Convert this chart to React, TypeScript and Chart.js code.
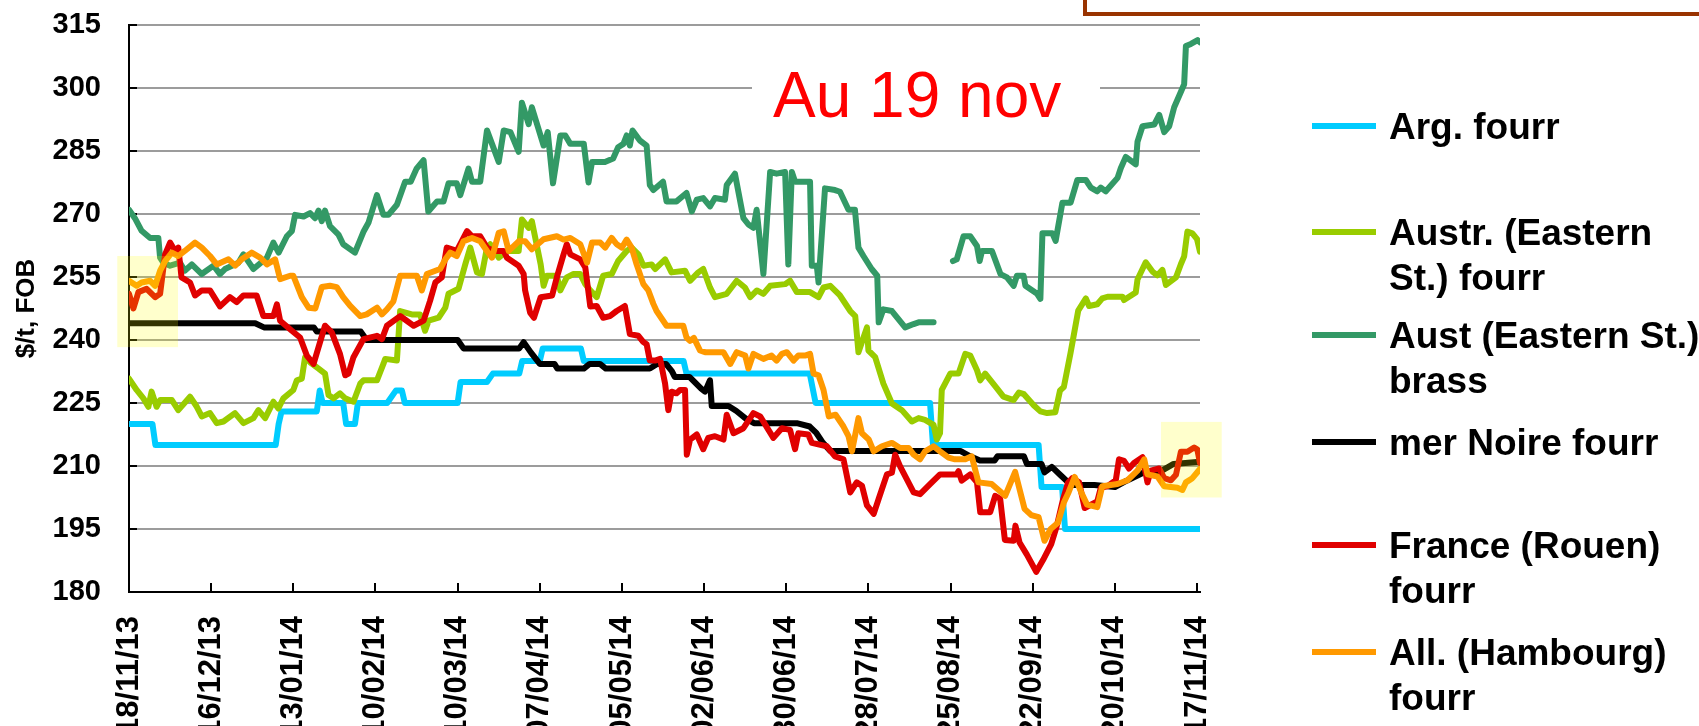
import React, { useEffect, useRef } from 'react';
import { Chart, registerables } from 'chart.js';

Chart.register(...registerables);

const FONT = "'Liberation Sans', Arial, sans-serif";

// x axis: days since 18/11/13
const tickDays = [0, 28, 56, 84, 112, 140, 168, 196, 224, 252, 280, 308, 336, 364];
const tickDates = ['18/11/13', '16/12/13', '13/01/14', '10/02/14', '10/03/14', '07/04/14', '05/05/14', '02/06/14', '30/06/14', '28/07/14', '25/08/14', '22/09/14', '20/10/14', '17/11/14'];
const yTicks = [180, 195, 210, 225, 240, 255, 270, 285, 300, 315];

const seriesNames = ['Arg. fourr', 'Austr. (Eastern St.) fourr', 'Aust (Eastern St.) brass', 'mer Noire fourr', 'France (Rouen) fourr', 'All. (Hambourg) fourr'];
const legendLines = [['Arg. fourr'], ['Austr. (Eastern', 'St.) fourr'], ['Aust (Eastern St.)', 'brass'], ['mer Noire fourr'], ['France (Rouen)', 'fourr'], ['All. (Hambourg)', 'fourr']];
const seriesColors = ['#00CCFF', '#99CC00', '#339966', '#000000', '#E00000', '#FF9900'];

const argDays = [0, 8, 9, 50, 51, 52, 64, 65, 66, 73, 74, 77, 78, 88, 91, 93, 94, 112, 113, 122, 124, 133, 134, 140, 141, 154, 155, 189, 190, 232, 234, 273, 274, 310, 311, 318, 319, 365];
const argValues = [220, 220, 215, 215, 220, 223, 223, 228, 225, 225, 220, 220, 225, 225, 228, 228, 225, 225, 230, 230, 232, 232, 235, 235, 238, 238, 235, 235, 232, 232, 225, 225, 215, 215, 205, 205, 195, 195];

const austrDays = [0, 2.6, 4.9, 6.6, 7.7, 9.4, 10.6, 14.6, 16.8, 20.8, 23.1, 24.8, 27.6, 29.9, 32.2, 36.1, 39, 42.4, 44.1, 46.4, 49.2, 50.9, 52.6, 56, 57.2, 58.9, 60, 61.7, 64.6, 66.8, 68, 69.7, 71.9, 73.7, 76.5, 78.8, 79.9, 84.5, 86.7, 87.3, 91.3, 92.4, 96.4, 99.2, 100.9, 102.1, 105.5, 107.8, 108.9, 112.3, 114.6, 116.3, 118.6, 120.3, 122, 123.1, 126, 128.8, 132.8, 133.9, 136.2, 137.3, 140.3, 141.3, 142.4, 145.8, 147, 149.2, 151.5, 153.8, 155.5, 157.2, 159.4, 161.6, 164.5, 166.7, 169.6, 171.3, 173.6, 175.3, 178.1, 179.3, 182.7, 184.9, 189.5, 191.2, 194, 195.7, 198, 199.7, 203.7, 207.1, 209.9, 211.7, 214, 216.2, 218.5, 223.6, 225.3, 227.6, 232.1, 235, 236.7, 239, 242.3, 245.8, 247.5, 248.6, 251.5, 252, 254.3, 257.1, 260, 263.4, 266.8, 269.1, 271.3, 274.2, 275.3, 276.4, 277, 279.9, 282.7, 285, 286.7, 289, 290.1, 291.8, 295.8, 298, 301.5, 303.3, 305, 308.4, 310.6, 312.9, 315.7, 317.3, 318.6, 320.9, 323.5, 326.1, 327.2, 330, 331.7, 333.5, 338.6, 339.1, 343.1, 343.7, 346.5, 348.8, 350.5, 352.2, 353.4, 356.8, 358.5, 359.6, 360.7, 362.4, 364, 365];
const austrValues = [230.8, 228.1, 226.1, 224.1, 227.7, 224.1, 225.7, 225.7, 223.3, 226.5, 224.1, 221.8, 222.6, 220.2, 220.6, 222.6, 220.2, 221.4, 223.3, 221.4, 225.3, 223.7, 226.1, 228.1, 230.4, 230.8, 235.9, 234.7, 233.2, 232, 226.9, 226.1, 227.3, 226.1, 225.3, 229.6, 230.4, 230.4, 234.3, 235.5, 235.1, 246.9, 246.1, 246.1, 242.2, 244.6, 245.3, 247.7, 251, 252.2, 258, 262, 256.1, 255.7, 262, 262.8, 259.6, 261.2, 261.2, 268.7, 266.7, 268.3, 258, 252.9, 255.3, 255.3, 251.8, 254.9, 255.7, 255.7, 253.3, 251.8, 250.2, 255.3, 255.7, 258.8, 261.2, 262, 260.4, 257.7, 258, 256.9, 259.2, 256.1, 256.5, 254.1, 256.1, 256.9, 252.5, 250.2, 251, 254.1, 252.5, 250.2, 251.8, 251, 252.9, 253.3, 254.1, 251.4, 251.4, 250.2, 252.5, 252.9, 250.6, 246.9, 245.7, 237.1, 243, 237.5, 235.9, 229.6, 224.9, 223.3, 220.6, 221.4, 221, 219.8, 216.3, 217.8, 228.1, 232, 232, 236.7, 236.3, 232.8, 230.4, 232, 228.5, 226.5, 225.7, 227.5, 227.1, 224.4, 223, 222.6, 222.8, 228, 228.8, 237, 247, 249.9, 248.1, 248.5, 249.9, 250.3, 250.3, 249.5, 251.3, 254.4, 258.5, 256.3, 255.4, 256.7, 253.1, 254.9, 258.1, 259.9, 265.8, 265.4, 264, 261];

const brassDays = [0, 2, 4.3, 7.2, 10, 10.6, 11.7, 14, 17.4, 19, 21.4, 24.8, 28.8, 31, 32.7, 37.3, 39, 42.4, 47, 49.2, 51, 53.8, 55.5, 56.6, 59.5, 61.7, 63.4, 64.6, 65.7, 66.8, 68.5, 71.4, 73, 77, 80, 81.6, 84.5, 86.7, 88.4, 91.3, 94.1, 96, 98, 100.4, 102, 105, 107.2, 108.9, 111.7, 112.9, 115.7, 116.9, 119.7, 122, 126, 127.7, 130, 132.8, 133.9, 136.2, 137.3, 141.3, 142.7, 144.5, 147, 148.7, 150.4, 155, 156.6, 157.8, 162.2, 165, 166.7, 168.5, 169.6, 170.7, 171.6, 174.1, 176.4, 177.5, 178.7, 182, 183.2, 186.6, 190, 191.8, 193.5, 195.7, 198, 199.7, 203.1, 203.7, 206.5, 209.4, 211.1, 212.8, 213.9, 216.2, 218.5, 220.7, 223.6, 224.7, 225.9, 227, 232.1, 232.7, 234.4, 235, 237.2, 240.6, 242.3, 245.2, 247.4, 248.6, 250.3, 253.1, 255, 255.5, 257.1, 260, 264.5, 267.4, 269.1, 274.2, 277, 280.8, 282.1, 284.4, 286.7, 289, 289.9, 290.7, 294.1, 297, 299.2, 301.5, 302.6, 304.9, 305.5, 309.5, 310.6, 311.3, 314.7, 315.8, 318.1, 320.9, 323.2, 326.1, 327.8, 330, 331.2, 332.9, 336.9, 338, 339.7, 343.1, 343.7, 345.4, 349.4, 351.1, 352.8, 354.5, 356.2, 358.5, 359.6, 360.2, 361.9, 364.2, 365];
const brassValues = [271, 269, 266, 264.3, 264.3, 259.6, 258.4, 257.7, 258.4, 256.5, 258, 255.7, 257.7, 255.7, 256.9, 258.4, 260.4, 256.9, 259.6, 263.2, 260.8, 264.7, 265.9, 269.8, 269.4, 270.2, 269, 270.8, 268.3, 270.8, 267.1, 265.1, 262.8, 260.8, 265.9, 267.9, 274.5, 269.8, 269.8, 272.2, 277.7, 277.7, 280.8, 282.8, 270.6, 273, 273, 277.3, 277.3, 274.5, 280.8, 277.7, 277.7, 289.9, 282.4, 289.9, 289.5, 284.8, 296.5, 291.4, 295.4, 286.3, 289.5, 277.3, 288.7, 288.7, 286.7, 286.7, 277.5, 282.4, 282.4, 283.2, 285.9, 286.7, 288.7, 286.3, 289.9, 287.5, 286.3, 276.9, 275.7, 277.7, 273, 273, 275, 270.6, 273.4, 273.8, 271.8, 273.8, 273.4, 276.9, 279.6, 269, 267.5, 266.7, 271, 255.7, 280, 279.6, 280, 258, 280, 277.7, 277.7, 257.7, 257.7, 253.7, 276.1, 275.7, 275.3, 271, 271, 262, 260, 256.9, 255.3, 244.2, 247.3, 246.9, 243, 243.8, 244.2, 244.2, null, 258.8, 259.2, 264.7, 264.7, 262.4, 258.8, 261.2, 261.2, 255.7, 254.9, 252.9, 255.3, 255.3, 252.9, 251, 249.8, 265.4, 265.4, 263.6, 272.7, 272.7, 278.1, 278.1, 276.3, 275.4, 276.3, 275.4, 278.6, 280.9, 283.6, 281.8, 287.2, 290.9, 291.3, 293.6, 289.5, 290.9, 295.4, 299.1, 300.9, 310, 310.5, 311.4, 310.9];

const noireDays = [0, 43, 46, 63, 64, 79, 81, 112, 114, 133, 134.5, 137, 140, 145, 146, 155, 157, 160.5, 162.5, 177.5, 180, 183, 185, 186, 191, 195, 196.3, 198, 198.6, 204.3, 207, 210, 213, 227.6, 232, 234.3, 236.5, 239, 283.3, 286.7, 290, 295, 296, 305, 306, 311, 312, 314.5, 317.5, 321, 329, 336, 340, 346, 351, 356, 365];
const noireValues = [244, 244, 243, 243, 242, 242, 240, 240, 238, 238, 239.5, 237, 234.3, 234.3, 233.2, 233.2, 234.3, 234.3, 233.2, 233.2, 234.3, 234.3, 232.6, 231.2, 231.2, 228.4, 227.7, 230.4, 224.3, 224.3, 223.1, 221.4, 220.2, 220.2, 219.4, 217.8, 215.5, 213.6, 213.6, 212.3, 211.3, 211.3, 212.3, 212.3, 210.5, 210.5, 208.5, 209.8, 207.8, 205.5, 205.5, 205, 206.5, 208.5, 208.5, 210.5, 211];

const rouenDays = [0, 1.5, 3.2, 6, 8.9, 10.6, 12.3, 14, 15.7, 16.8, 17.9, 20.8, 22.5, 24.8, 27.6, 31, 34.4, 36.7, 39, 43.5, 45.8, 49.2, 50.4, 51.5, 55.5, 58.3, 60.6, 62.9, 64.6, 66.8, 69.1, 71.9, 73.7, 74.8, 76.5, 79.9, 84.5, 86.2, 87.9, 92.4, 97, 100.4, 102.6, 104.4, 106.6, 108.3, 111.7, 115.2, 116.9, 119.7, 122, 124.3, 127.7, 128.8, 132.8, 134.5, 135, 136.7, 138, 140.3, 144.2, 145.8, 148.1, 149.2, 150.4, 153.8, 155.5, 157.2, 159.4, 161.6, 163.9, 166.2, 169, 170.7, 173.6, 175.3, 176.4, 177.5, 179.3, 181, 182.7, 183.8, 184.9, 186.6, 187.8, 189.5, 190.1, 191.2, 193.5, 195.7, 197.4, 199.7, 202.6, 203.7, 206, 209.4, 212.8, 215.1, 219.6, 222.5, 225.3, 227, 228.1, 231.5, 232.7, 237.8, 240.6, 243.5, 245.8, 248, 249.8, 251.5, 253.8, 255.5, 258.3, 260, 261.1, 262.8, 267.4, 269.6, 273, 276.4, 282.1, 282.7, 283.8, 286.7, 289, 290.1, 293.5, 295.2, 296.9, 298.5, 301.5, 302.1, 303.5, 306, 309.2, 311.5, 314.3, 316.3, 318.3, 320, 321.5, 323.8, 325.7, 330, 331.2, 333.5, 336.3, 337.4, 339.1, 340.8, 342.5, 345.4, 347.1, 348.2, 351.1, 352.8, 355.1, 356.8, 358.5, 360.7, 363, 364.1, 365];
const rouenValues = [251, 247.5, 251.4, 252.2, 250.2, 251, 260.4, 263.2, 261.2, 262, 254.9, 253.7, 250.6, 251.8, 251.8, 248, 250.2, 249, 250.6, 250.6, 245.7, 245.7, 248.5, 244.6, 242.2, 240.6, 236.3, 234.3, 238.3, 243.4, 241.8, 236.7, 231.6, 232, 235.9, 240.2, 241, 240.2, 243.4, 245.7, 243.4, 244.6, 249.3, 253.7, 254.9, 262, 261.2, 265.9, 264.7, 264.7, 262, 261.2, 261.2, 259.6, 257.7, 255.7, 251.8, 246.5, 245.3, 250.2, 250.6, 254.9, 260.4, 262.8, 260.4, 259.2, 257.3, 248, 248.1, 245.3, 245.7, 246.9, 248.1, 241.4, 241, 239.5, 239, 235.1, 235.1, 235.5, 229.6, 223.3, 227.7, 227.3, 228.1, 228.1, 212.7, 216.3, 217.5, 214, 216.7, 217.1, 216.3, 222.2, 217.8, 219, 222.6, 221.8, 216.7, 219, 218.6, 214, 217.8, 217.5, 215.5, 214.7, 212.3, 211.6, 203.7, 206.1, 205.3, 200.6, 198.6, 202.2, 208, 208.4, 212.7, 209.9, 203.7, 203.3, 205.7, 208, 208, 208.8, 206.5, 208, 206.1, 199, 199, 202.9, 202.2, 192.4, 192.2, 195.8, 191.8, 188.9, 184.8, 187.6, 191.4, 196, 202, 206, 207.1, 206.1, 200, 201.6, 204.8, 205.2, 206.6, 211.6, 211.2, 209.4, 210.7, 212.1, 206.1, 208.9, 209.4, 207.1, 206.6, 207.9, 213.4, 213.4, 214.4, 213.9, 210.7];

const hambDays = [0, 2.6, 4.3, 7.2, 8.9, 10.6, 12.3, 14.6, 16.8, 19, 22.5, 24.8, 27.6, 29.9, 33.9, 36.2, 38.4, 41.8, 44.7, 47, 49.8, 51.5, 54.9, 56, 58.9, 61.2, 63.5, 65.7, 68.5, 70.8, 73, 75.4, 78.8, 81, 84.5, 86.2, 87.9, 90.1, 92.4, 98.1, 99.8, 101.5, 106, 107.8, 109.5, 111.7, 114, 116.9, 119.7, 122, 123.7, 126, 127.7, 129.4, 132.8, 135, 137.3, 141.3, 145.8, 148.1, 150.4, 153.8, 156.1, 157.8, 160.6, 162.3, 164.5, 166.2, 168, 169.6, 171.3, 173, 175.3, 177, 178.7, 179.8, 183.2, 188.9, 190, 191.2, 192.5, 194.6, 196.3, 202.6, 204.9, 207.1, 210, 211.1, 212.8, 216.2, 219, 220.7, 222.5, 224.2, 226.5, 228.1, 230.4, 232.1, 233.3, 235, 236.7, 238.5, 240.8, 243.5, 245.2, 246.4, 248.6, 249.8, 252.1, 253.8, 256.6, 260, 262.8, 265.7, 267.4, 269.6, 271.3, 274.2, 276.4, 279.3, 281.5, 285, 287.2, 289.5, 294, 298.6, 302, 305.2, 307.5, 310, 312, 314.1, 316.6, 318.6, 320.2, 322.3, 324.6, 326.5, 330, 331.7, 336.9, 340.3, 343.7, 346, 347.1, 350.5, 352.8, 357.3, 359, 360.2, 362.4, 365];
const hambValues = [254.1, 252.9, 253.7, 254.1, 252.9, 256.5, 258.8, 260.8, 260, 261.2, 263.2, 262, 260, 258, 259.2, 257.7, 259.2, 260.8, 259.6, 258, 259.2, 254.5, 255.3, 255.3, 250.2, 247.7, 247.5, 252.6, 252.9, 252.6, 250.2, 248.1, 245.7, 246.1, 247.7, 246.1, 247.3, 249.2, 255.3, 255.3, 251.8, 255.7, 256.9, 259.2, 260.8, 260, 263.5, 264.3, 263.5, 261.2, 259.6, 265.5, 265.9, 261.2, 263.5, 263.5, 261.6, 264, 264.7, 263.9, 264.3, 262.8, 258.4, 263.2, 263.2, 262, 264.3, 262.8, 262, 263.9, 262, 258, 253.3, 251.8, 248.6, 246.9, 243.4, 243.4, 240.6, 239.8, 240.5, 237.5, 237.1, 237.1, 234.3, 237.1, 236.3, 233.2, 236.7, 235.5, 236.3, 235.1, 236.7, 237.1, 235.1, 236.3, 236.3, 236.7, 232, 231.6, 228.1, 221.8, 222.2, 219.4, 217.1, 213.5, 221.4, 217.8, 216.3, 213.5, 214.7, 215.5, 214.3, 214.3, 212.7, 211.6, 213.5, 214.7, 213.5, 212, 211.6, 211.6, 212.3, 206.1, 205.7, 202.9, 208.6, 199.8, 198.3, 197.8, 192.2, 195, 196.5, 201.3, 203.7, 207.4, 203.6, 200.8, 200.2, 205.2, 205.7, 206.6, 208.9, 211.6, 208, 207.5, 205.2, 204.8, 204.3, 206.1, 207.1, 209.3];

// highlighted zones (days, values)
const highlightDays = [[-4, 16.7], [351.7, 372.4]];
const highlightValues = [[238.3, 260], [202.5, 220.5]];

const seriesDays = [argDays, austrDays, brassDays, noireDays, rouenDays, hambDays];
const seriesValues = [argValues, austrValues, brassValues, noireValues, rouenValues, hambValues];

const innerTicks = {
  id: 'innerTicks',
  beforeDatasetsDraw(chart: any) {
    const { ctx, chartArea, scales } = chart;
    const x = scales.x, y = scales.y;
    ctx.save();
    ctx.strokeStyle = '#000';
    ctx.lineWidth = 2;
    ctx.beginPath();
    y.ticks.forEach((t: any) => {
      const py = Math.round(y.getPixelForValue(t.value));
      ctx.moveTo(chartArea.left, py);
      ctx.lineTo(chartArea.left + 8, py);
    });
    x.ticks.forEach((t: any) => {
      const px = Math.round(x.getPixelForValue(t.value));
      ctx.moveTo(px, chartArea.bottom);
      ctx.lineTo(px, chartArea.bottom - 9);
    });
    ctx.stroke();
    ctx.restore();
  },
};

const highlights = {
  id: 'highlights',
  afterDraw(chart: any) {
    const { ctx, scales } = chart;
    const x = scales.x, y = scales.y;
    ctx.save();
    ctx.fillStyle = 'rgba(255,255,0,0.2)';
    highlightDays.forEach((d, i) => {
      const v = highlightValues[i];
      const x0 = x.getPixelForValue(d[0]);
      const x1 = x.getPixelForValue(d[1]);
      const y0 = y.getPixelForValue(v[1]);
      const y1 = y.getPixelForValue(v[0]);
      ctx.fillRect(x0, y0, x1 - x0, y1 - y0);
    });
    ctx.restore();
  },
};

export default function App() {
  const canvasRef = useRef<HTMLCanvasElement | null>(null);

  useEffect(() => {
    const canvas = canvasRef.current;
    if (!canvas) return;
    const datasets = seriesNames.map((name, i) => ({
      label: name,
      data: seriesDays[i].map((d, j) => ({ x: d, y: seriesValues[i][j] })),
      borderColor: seriesColors[i],
      backgroundColor: seriesColors[i],
      borderWidth: 6,
      pointRadius: 0,
      pointHoverRadius: 0,
      tension: 0,
      fill: false,
      spanGaps: false,
      borderJoinStyle: 'round',
      borderCapStyle: 'round',
      order: 6 - i,
    }));
    const chart = new Chart(canvas, {
      type: 'line',
      data: { datasets } as any,
      options: {
        animation: false,
        responsive: false,
        maintainAspectRatio: false,
        layout: { padding: { top: 25, right: 499, bottom: 0, left: 0 } },
        plugins: { legend: { display: false }, tooltip: { enabled: false } },
        scales: {
          x: {
            type: 'linear',
            min: 0,
            max: 365,
            afterFit: (s: any) => { s.height = 134; s.paddingTop = 0; s.paddingBottom = 0; },
            afterBuildTicks: (s: any) => { s.ticks = tickDays.map((v) => ({ value: v })); },
            grid: { display: false, drawTicks: false },
            border: { display: true, color: '#000', width: 2 },
            ticks: {
              autoSkip: false,
              minRotation: 90,
              maxRotation: 90,
              padding: 24,
              color: '#000',
              font: { family: FONT, size: 31, weight: 'bold' },
              callback: (_v: any, i: number) => tickDates[i],
            },
          },
          y: {
            type: 'linear',
            min: 180,
            max: 315,
            afterFit: (s: any) => { s.width = 129; s.paddingTop = 0; s.paddingBottom = 0; },
            afterBuildTicks: (s: any) => { s.ticks = yTicks.map((v) => ({ value: v })); },
            grid: {
              drawTicks: false,
              lineWidth: 2,
              color: (c: any) => (c.tick && c.tick.value === 180 ? 'rgba(0,0,0,0)' : '#9C9C9C'),
            },
            border: { display: true, color: '#000', width: 2 },
            ticks: {
              padding: 28,
              color: '#000',
              font: { family: FONT, size: 29, weight: 'bold' },
            },
            title: {
              display: true,
              text: '$/t, FOB',
              color: '#000',
              font: { family: FONT, size: 26, weight: 'bold' },
              padding: { top: 11, bottom: 0 },
            },
          },
        },
      } as any,
      plugins: [innerTicks, highlights],
    });
    return () => chart.destroy();
  }, []);

  const legendTops = [103.7, 209.7, 313, 419.7, 523, 629.7];

  return (
    <div style={{ position: 'absolute', left: 0, top: 0, width: 1699, height: 726, overflow: 'hidden', background: '#fff' }}>
      <canvas ref={canvasRef} width={1699} height={726} style={{ position: 'absolute', left: 0, top: 0, width: 1699, height: 726 }} />
      <div style={{ position: 'absolute', left: 1083, top: -60, width: 640, height: 76, boxSizing: 'border-box', border: '4px solid #993300', background: '#fff' }} />
      <div style={{ position: 'absolute', left: 752, top: 45, width: 348, height: 92, background: '#fff' }}>
        <span style={{ position: 'absolute', left: 21, top: 18, fontFamily: FONT, fontSize: 64, lineHeight: '64px', color: '#FF0000', whiteSpace: 'nowrap' }}>Au 19 nov</span>
      </div>
      {legendLines.map((lines, i) => (
        <React.Fragment key={i}>
          <div style={{ position: 'absolute', left: 1312, top: legendTops[i] + 18.8, width: 64, height: 6, background: seriesColors[i] }} />
          <div style={{ position: 'absolute', left: 1389, top: legendTops[i], fontFamily: FONT, fontWeight: 'bold', fontSize: 37, lineHeight: '45px', color: '#000', whiteSpace: 'nowrap' }}>
            {lines.map((l, k) => (<div key={k}>{l}</div>))}
          </div>
        </React.Fragment>
      ))}
    </div>
  );
}
